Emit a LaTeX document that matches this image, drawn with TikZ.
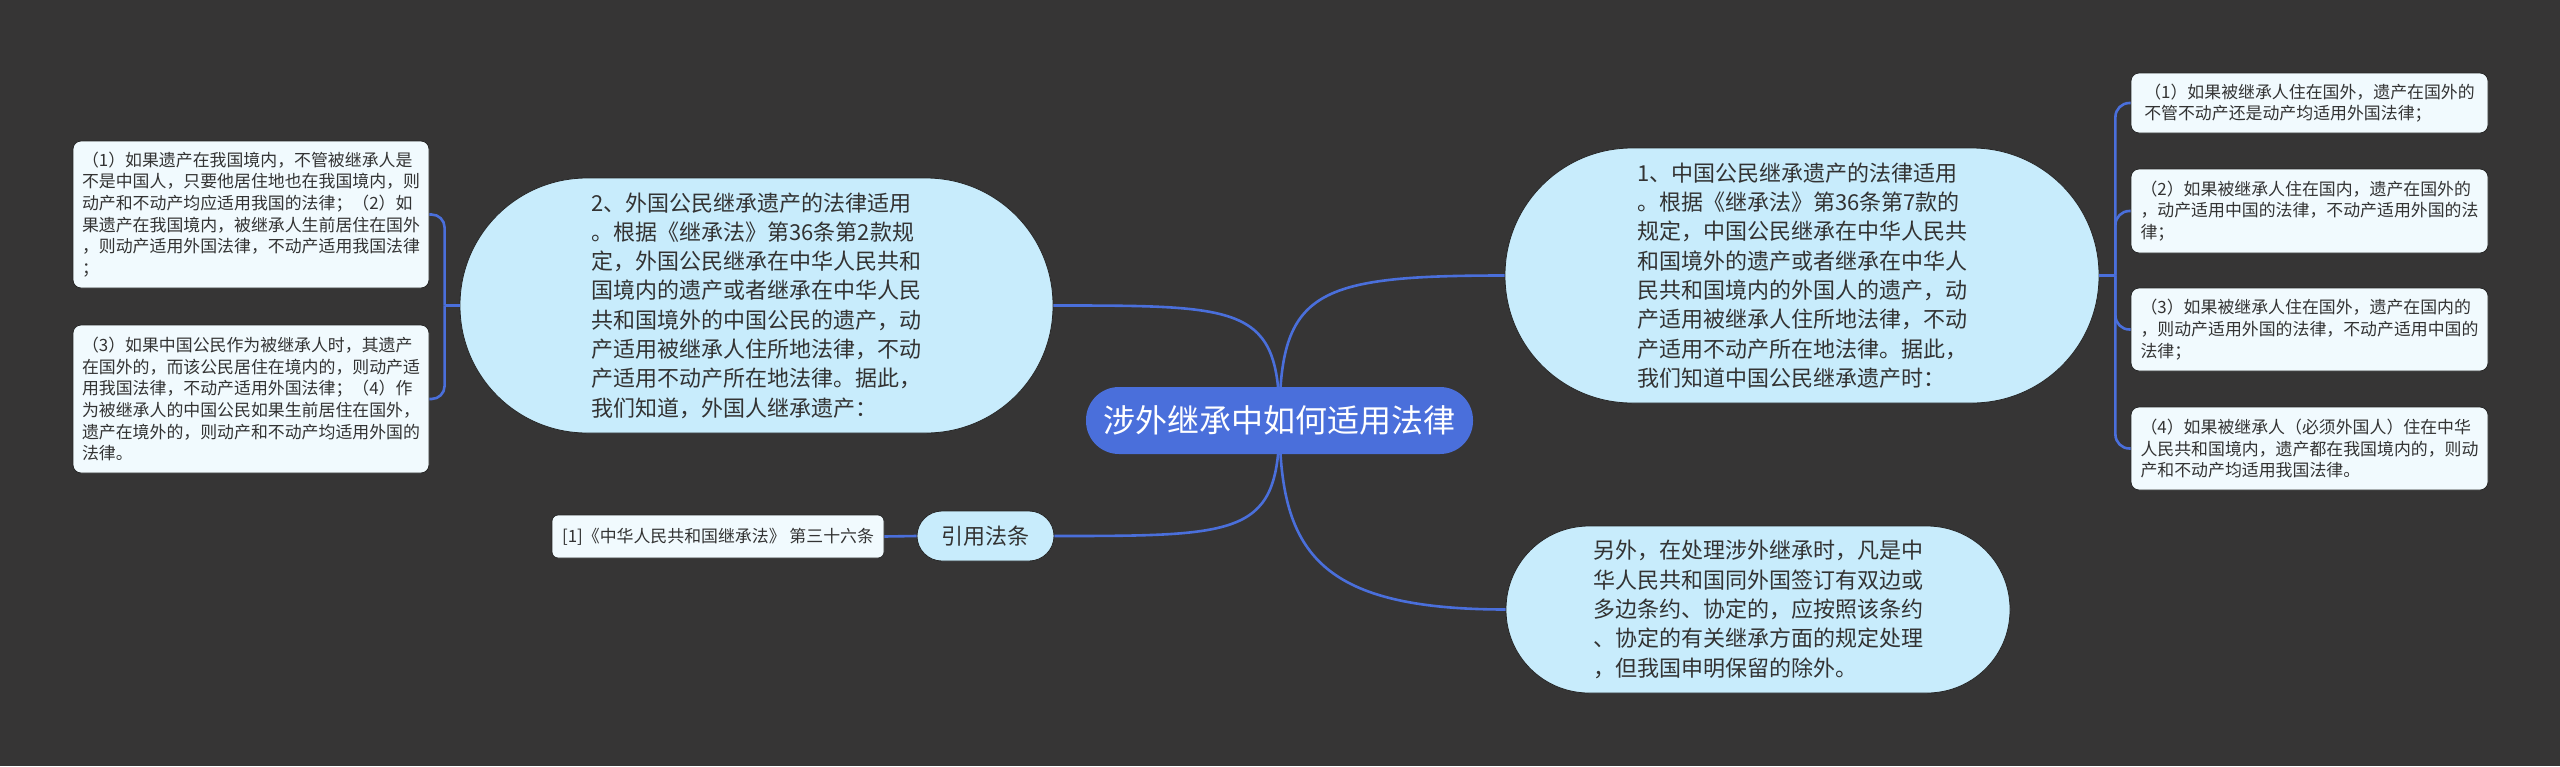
\documentclass[tikz,border=0pt]{standalone}
\usepackage{fontspec}
\setmainfont{Noto Sans CJK SC}
\definecolor{bgc}{HTML}{363535}
\definecolor{rootc}{HTML}{4A6FDB}
\definecolor{midc}{HTML}{C8ECFC}
\definecolor{leafc}{HTML}{F1FAFE}
\definecolor{txtc}{HTML}{333333}
\definecolor{edgec}{HTML}{262626}
\begin{document}
\begin{tikzpicture}[x=1pt,y=-1pt,
  conn/.style={draw=rootc,line width=2.6pt},
  rootnode/.style={fill=rootc,text=white,inner sep=0pt,align=center,
    font=\fontsize{32}{38}\selectfont},
  bignode/.style={fill=midc,draw=edgec,line width=0.8pt,text=txtc,inner sep=0pt,align=left,
    font=\fontsize{22}{29.3}\selectfont},
  citenode/.style={fill=midc,draw=edgec,line width=0.8pt,text=txtc,inner sep=0pt,align=center,
    font=\fontsize{22}{26}\selectfont},
  leafnode/.style={fill=leafc,draw=edgec,line width=0.8pt,text=txtc,inner sep=0pt,align=left,
    rounded corners=8pt,font=\fontsize{16.9}{21.7}\selectfont}]
\fill[bgc] (0,0) rectangle (2560,766);
\useasboundingbox (0,0) rectangle (2560,766);

% coordinates of nodes
\coordinate (pr) at (1279.5,420.5);
\coordinate (p1) at (1802,275.5);
\coordinate (p2) at (756.5,305.5);
\coordinate (p3) at (1758,609.5);
\coordinate (pc) at (985.5,536);

% connectors (drawn first, behind nodes)
\path (pr) coordinate (rc);
\path (p1) ++(-297,0) coordinate (n1w);
\path (p3) ++(-252,0) coordinate (n3w);
\path (p2) ++(296.5,0) coordinate (n2e);
\path (pc) ++(68.5,0) coordinate (nce);
\draw[conn] (rc) .. controls +(0,-130) and +(-190,0) .. (n1w);
\draw[conn] (rc) .. controls +(0,130) and +(-190,0) .. (n3w);
\draw[conn] (rc) .. controls +(0,-115) and +(190,0) .. (n2e);
\draw[conn] (rc) .. controls +(0,115) and +(190,0) .. (nce);

% root
\node[rootnode,minimum width=387pt,minimum height=67pt,rounded corners=33pt] (root) at (pr) {涉外继承中如何适用法律};

% main children
\node[bignode,minimum width=594pt,minimum height=255pt,rounded corners=127pt] (n1) at (p1) {1、中国公民继承遗产的法律适用\\。根据《继承法》第36条第7款的\\规定，中国公民继承在中华人民共\\和国境外的遗产或者继承在中华人\\民共和国境内的外国人的遗产，动\\产适用被继承人住所地法律，不动\\产适用不动产所在地法律。据此，\\我们知道中国公民继承遗产时：};

\node[bignode,minimum width=593pt,minimum height=255pt,rounded corners=127pt] (n2) at (p2) {2、外国公民继承遗产的法律适用\\。根据《继承法》第36条第2款规\\定，外国公民继承在中华人民共和\\国境内的遗产或者继承在中华人民\\共和国境外的中国公民的遗产，动\\产适用被继承人住所地法律，不动\\产适用不动产所在地法律。据此，\\我们知道，外国人继承遗产：};

\node[bignode,minimum width=504pt,minimum height=167pt,rounded corners=83pt] (n3) at (p3) {另外，在处理涉外继承时，凡是中\\华人民共和国同外国签订有双边或\\多边条约、协定的，应按照该条约\\、协定的有关继承方面的规定处理\\，但我国申明保留的除外。};

\node[citenode,minimum width=137pt,minimum height=50pt,rounded corners=25pt] (cite) at (pc) {引用法条};

% leaves right
\node[leafnode,minimum width=357pt,minimum height=60pt] (r1) at (2309.5,103) {（1）如果被继承人住在国外，遗产在国外的\\不管不动产还是动产均适用外国法律；};
\node[leafnode,minimum width=357pt,minimum height=84pt] (r2) at (2309.5,211) {（2）如果被继承人住在国内，遗产在国外的\\，动产适用中国的法律，不动产适用外国的法\\律；};
\node[leafnode,minimum width=357pt,minimum height=83pt] (r3) at (2309.5,329.5) {（3）如果被继承人住在国外，遗产在国内的\\，则动产适用外国的法律，不动产适用中国的\\法律；};
\node[leafnode,minimum width=357pt,minimum height=83pt] (r4) at (2309.5,448.5) {（4）如果被继承人（必须外国人）住在中华\\人民共和国境内，遗产都在我国境内的，则动\\产和不动产均适用我国法律。};

% leaves left
\node[leafnode,minimum width=356pt,minimum height=147pt] (l1) at (251,214.5) {（1）如果遗产在我国境内，不管被继承人是\\不是中国人，只要他居住地也在我国境内，则\\动产和不动产均应适用我国的法律；（2）如\\果遗产在我国境内，被继承人生前居住在国外\\，则动产适用外国法律，不动产适用我国法律\\；};
\node[leafnode,minimum width=356pt,minimum height=148pt] (l2) at (251,399) {（3）如果中国公民作为被继承人时，其遗产\\在国外的，而该公民居住在境内的，则动产适\\用我国法律，不动产适用外国法律；（4）作\\为被继承人的中国公民如果生前居住在国外，\\遗产在境外的，则动产和不动产均适用外国的\\法律。};

\node[leafnode,minimum width=332pt,minimum height=43pt,rounded corners=6pt] (ref) at (718,536.5) {[1]《中华人民共和国继承法》 第三十六条};

% leaf connectors
\draw[conn] (n1.east) -- ++(16,0) coordinate (t1);
\foreach \r in {r1,r2,r3,r4}{
  \draw[conn,rounded corners=14pt] (t1) |- (\r.west);
}
\draw[conn] (n2.west) -- ++(-15,0) coordinate (t2);
\foreach \l in {l1,l2}{
  \draw[conn,rounded corners=13pt] (t2) |- (\l.east);
}
\draw[conn] (ref.east) -- (cite.west);
\end{tikzpicture}
\end{document}
